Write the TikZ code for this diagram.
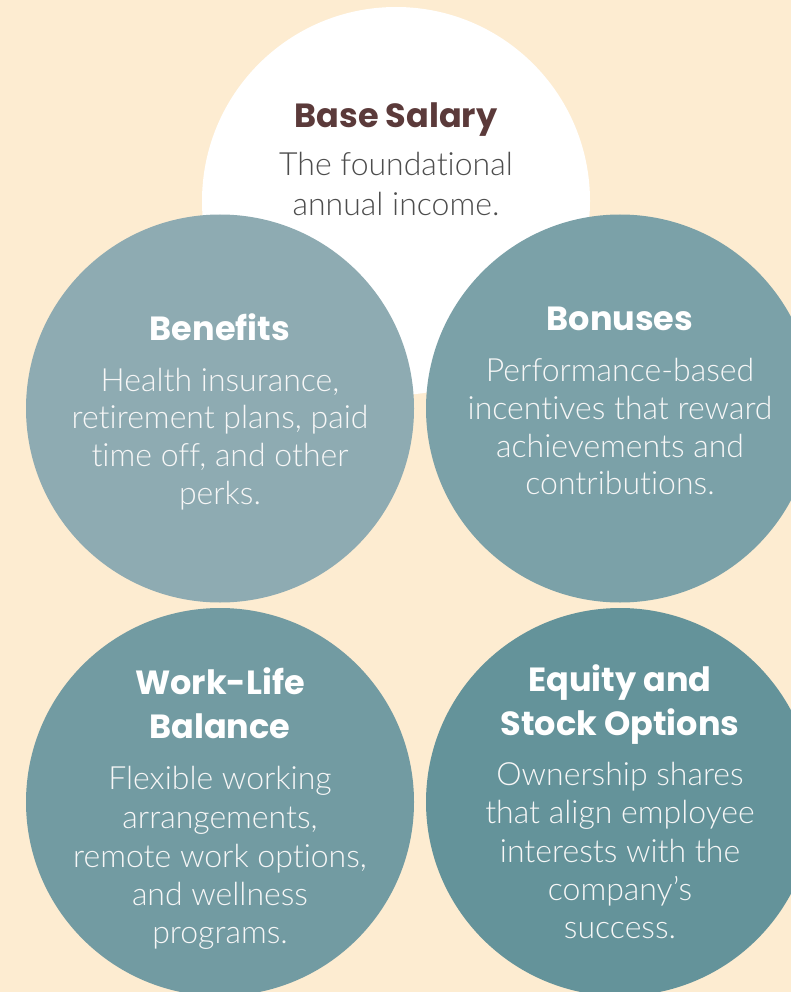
\documentclass[tikz,border=0pt]{standalone}
\usepackage{fontspec}
\newfontfamily\titlefont{Poppins}
\newfontfamily\bodyfont{Lato Light}[Ligatures=NoCommon]
\definecolor{bgcream}{HTML}{FDECD1}
\definecolor{cbenefits}{HTML}{8EABB2}
\definecolor{cbonuses}{HTML}{7BA1A8}
\definecolor{cwork}{HTML}{729BA2}
\definecolor{cequity}{HTML}{64939A}
\definecolor{brownt}{HTML}{5B3A3A}
\definecolor{grayt}{HTML}{4D4D4D}
\tikzset{
  bubble/.style={circle, inner sep=0pt, minimum size=388pt, draw=none},
  ttl/.style={anchor=base, inner sep=0pt, font=\titlefont\bfseries\fontsize{33.5}{33.5}\selectfont, text=white},
  txt/.style={anchor=base, inner sep=0pt, font=\bodyfont\fontsize{32}{32}\selectfont, text=white!97!black},
}
\begin{document}
\begin{tikzpicture}[x=1pt,y=-1pt]
\useasboundingbox (0,0) rectangle (791,992);
\fill[bgcream] (0,0) rectangle (791,992);
\begin{scope}
\clip (0,0) rectangle (791,992);
\node[bubble, fill=white] (cbase) at (396,201) {};
\node[bubble, fill=cbenefits] (cben) at (220,408.5) {};
\node[bubble, fill=cbonuses] (cbon) at (620,408.5) {};
\node[bubble, fill=cwork] (cwl) at (220,802) {};
\node[bubble, fill=cequity] (ceq) at (620,802) {};
\end{scope}
% Base Salary
\node[ttl, text=brownt] (t1) at (396,128) {Base Salary};
\node[txt, text=grayt] (t1a) at (396,176) {The foundational};
\node[txt, text=grayt] (t1b) at (396,215) {annual income.};
% Benefits
\node[ttl] (t2) at (220,340) {Benefits};
\node[txt] (t2a) at (220,391) {Health insurance,};
\node[txt] (t2b) at (220,428.5) {retirement plans, paid};
\node[txt] (t2c) at (220,466) {time off, and other};
\node[txt] (t2d) at (220,504) {perks.};
% Bonuses
\node[ttl] (t3) at (620,330) {Bonuses};
\node[txt] (t3a) at (620,381) {Performance-based};
\node[txt] (t3b) at (620,419) {incentives that reward};
\node[txt] (t3c) at (620,457) {achievements and};
\node[txt] (t3d) at (620,494.5) {contributions.};
% Work-Life
\node[ttl] (t4) at (220,694) {Work-Life};
\node[ttl] (t4x) at (220,738) {Balance};
\node[txt] (t4a) at (220,789) {Flexible working};
\node[txt] (t4b) at (220,828) {arrangements,};
\node[txt] (t4c) at (220,867) {remote work options,};
\node[txt] (t4d) at (220,905) {and wellness};
\node[txt] (t4e) at (220,943) {programs.};
% Equity
\node[ttl] (t5) at (620,691) {Equity and};
\node[ttl] (t5x) at (620,735) {Stock Options};
\node[txt] (t5a) at (620,785) {Ownership shares};
\node[txt] (t5b) at (620,823) {that align employee};
\node[txt] (t5c) at (620,862) {interests with the};
\node[txt] (t5d) at (620,900) {company’s};
\node[txt] (t5e) at (620,938) {success.};
\end{tikzpicture}
\end{document}
